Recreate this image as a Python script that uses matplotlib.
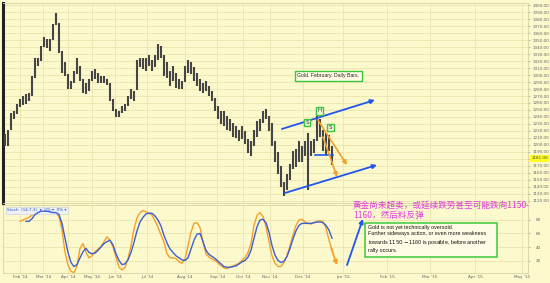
import numpy as np
import matplotlib.pyplot as plt
from matplotlib.patches import Rectangle


# gold, february contract, bar ranges (left to right)
bar_low = [1198, 1198, 1222, 1237, 1244, 1254, 1257, 1259, 1263, 1270,
           1296, 1313, 1320, 1340, 1338, 1335, 1350, 1371, 1331, 1303,
           1299, 1280, 1280, 1289, 1302, 1292, 1274, 1273, 1277, 1292,
           1295, 1289, 1289, 1289, 1286, 1263, 1248, 1240, 1240, 1246,
           1248, 1255, 1266, 1263, 1278, 1311, 1309, 1306, 1313, 1306,
           1311, 1322, 1324, 1299, 1296, 1285, 1292, 1282, 1280, 1280,
           1290, 1303, 1302, 1292, 1285, 1277, 1274, 1277, 1270, 1263,
           1248, 1237, 1230, 1227, 1222, 1220, 1212, 1210, 1205, 1208,
           1201, 1188, 1184, 1198, 1212, 1220, 1231, 1237, 1220, 1198,
           1176, 1159, 1140, 1127, 1136, 1150, 1165, 1169, 1176, 1176,
           1184, 1136, 1184, 1188, 1205, 1212, 1191, 1186, 1191, 1172]
bar_high = [1215, 1222, 1245, 1248, 1258, 1266, 1270, 1273, 1274, 1299,
            1325, 1325, 1342, 1354, 1352, 1352, 1373, 1388, 1375, 1334,
            1318, 1302, 1292, 1306, 1325, 1313, 1295, 1289, 1295, 1306,
            1309, 1303, 1299, 1298, 1295, 1288, 1266, 1251, 1248, 1256,
            1259, 1270, 1280, 1277, 1321, 1325, 1325, 1324, 1328, 1321,
            1328, 1345, 1342, 1328, 1318, 1306, 1313, 1303, 1295, 1292,
            1313, 1321, 1318, 1311, 1303, 1295, 1289, 1292, 1285, 1277,
            1267, 1256, 1248, 1248, 1241, 1237, 1231, 1227, 1222, 1227,
            1220, 1208, 1205, 1222, 1234, 1237, 1248, 1251, 1241, 1232,
            1205, 1190, 1170, 1147, 1159, 1173, 1191, 1194, 1205, 1198,
            1205, 1217, 1205, 1208, 1248, 1237, 1222, 1217, 1214, 1198]
last_price = 1181.0

# stochastics, fast line starts on bar 5, slow line on bar 7
stoch_fast = [78, 80, 82, 84, 87, 91, 93, 94, 94, 93,
              92, 91, 90, 85, 65, 32, 13, 4, 2, 12,
              38, 45, 32, 24, 27, 33, 37, 41, 48, 55,
              50, 40, 25, 10, 6, 10, 23, 42, 67, 83,
              91, 94, 92, 90, 87, 79, 69, 58, 47, 30,
              24, 24, 23, 18, 16, 22, 42, 62, 75, 76,
              69, 47, 30, 25, 22, 20, 16, 12, 9, 8,
              10, 12, 14, 16, 20, 24, 32, 45, 72, 87,
              91, 85, 70, 48, 27, 16, 11, 11, 17, 27,
              42, 58, 72, 80, 81, 77, 75, 74, 76, 78,
              79, 78, 68, 50, 36]
stoch_slow = [78, 78, 82, 88, 91, 93, 93, 93, 92, 91,
              91, 88, 75, 53, 32, 17, 11, 14, 24, 33,
              38, 32, 30, 31, 35, 40, 45, 48, 50, 43,
              30, 20, 14, 15, 21, 32, 47, 64, 77, 84,
              89, 90, 90, 86, 80, 71, 57, 46, 37, 32,
              27, 24, 21, 20, 24, 37, 50, 59, 60, 48,
              35, 29, 26, 23, 19, 15, 11, 10, 10, 11,
              12, 15, 18, 20, 25, 35, 53, 70, 80, 81,
              76, 62, 42, 28, 20, 17, 19, 26, 38, 52,
              64, 72, 75, 75, 75, 75, 76, 77, 77, 76,
              72, 65, 53]
fast_start = 5
slow_start = 7

# month boundaries in bar units
month_pos = [5, 12.7, 21, 29, 36.7, 47.3, 60, 70.7, 79.3, 88.3, 99.3,
             112.7, 127.3, 141.7, 156.7, 172.3]
month_labels = ["Feb '14", "Mar '14", "Apr '14", "May '14", "Jun '14", "Jul '14",
                "Aug '14", "Sep '14", "Oct '14", "Nov '14", "Dec '14", "Jan '15",
                "Feb '15", "Mar '15", "Apr '15", "May '15"]
price_ticks = np.arange(1120, 1401, 10)
stoch_ticks = [20, 40, 60, 80]

BG = '#fcf9cc'
GRID = '#ebe4b0'
GREEN = '#3cc83c'
BLUE = '#2255ee'
ORANGE = '#f5a02a'
W, H = 550.0, 283.0

fig = plt.figure(figsize=(5.5, 2.83), dpi=100, facecolor=BG)
ax = fig.add_axes([3 / W, 1 - 203 / H, 525 / W, 200 / H], facecolor=BG)
ax2 = fig.add_axes([3 / W, 1 - 273 / H, 525 / W, 68 / H], facecolor=BG, sharex=ax)

# price bars
x = np.arange(len(bar_low))
ax.vlines(x, bar_low, bar_high, color='#454545', lw=1.5, zorder=3)

ax.set_xlim(-0.67, 174.33)
ax.set_ylim(1117.1, 1402.9)
ax.set_yticks(price_ticks)
ax.set_yticklabels([f"{v:.2f}" for v in price_ticks])
ax.set_xticks(month_pos)
ax.grid(True, color=GRID, lw=0.6)
ax.tick_params(axis='y', left=False, right=True, labelleft=False, labelright=True,
               labelsize=3, labelcolor='#666666', color='#bbbbbb', length=1.5, pad=1.5)
ax.tick_params(axis='x', bottom=False, labelbottom=False)
for side in ['top', 'right', 'bottom']:
    ax.spines[side].set_color('#d8d2a0')
    ax.spines[side].set_linewidth(0.6)
ax.spines['left'].set_color('#222222')
ax.spines['left'].set_linewidth(2.2)

ax.text(1.006, last_price, f"{last_price:.2f}", transform=ax.get_yaxis_transform(),
        ha='left', va='center', fontsize=3, color='#444444',
        bbox=dict(boxstyle='square,pad=0.35', fc='#ffff22', ec='none'), clip_on=False)

# pattern markup
arrow_blue = dict(arrowstyle='-|>', color=BLUE, lw=1.3, mutation_scale=6, shrinkA=0, shrinkB=0)
arrow_orange = dict(arrowstyle='-|>', color=ORANGE, lw=1.2, mutation_scale=6, shrinkA=0, shrinkB=0)
ax.annotate('', xy=(123.3, 1264.3), xytext=(92.3, 1222.9), arrowprops=arrow_blue, zorder=5)
ax.annotate('', xy=(124.0, 1171.4), xytext=(93.3, 1131.4), arrowprops=arrow_blue, zorder=5)
ax.plot([103.3, 109.3], [1185.7, 1185.7], color=BLUE, lw=1.2, zorder=5)
ax.annotate('', xy=(114.0, 1171.4), xytext=(104.3, 1235.7), arrowprops=arrow_orange, zorder=5)
ax.annotate('', xy=(110.7, 1154.3), xytext=(106.0, 1211.4), arrowprops=arrow_orange, zorder=5)

box_style = dict(boxstyle='square,pad=0.25', fc='#f3f8dc', ec=GREEN, lw=1.0)
ax.text(104.7, 1249, "H", fontsize=4, ha='center', va='center', color='#333333',
        bbox=box_style, zorder=6)
ax.text(100.7, 1232, "S", fontsize=4, ha='center', va='center', color='#333333',
        bbox=box_style, zorder=6)
ax.text(108.5, 1225, "S", fontsize=4, ha='center', va='center', color='#333333',
        bbox=box_style, zorder=6)
ax.text(107.8, 1298.6, "Gold. February. Daily Bars.", fontsize=3.7, family='Liberation Sans',
        ha='center', va='center', color='#222222',
        bbox=dict(boxstyle='square,pad=0.45', fc='#fffde6', ec=GREEN, lw=1.0), zorder=6)

# stochastics panel
ax2.plot(np.arange(fast_start, fast_start + len(stoch_fast)), stoch_fast,
         color=ORANGE, lw=1.0, zorder=3)
ax2.plot(np.arange(slow_start, slow_start + len(stoch_slow)), stoch_slow,
         color='#3d5fd0', lw=1.0, zorder=4)
ax2.set_ylim(1.5, 102.2)
ax2.set_yticks(stoch_ticks)
ax2.set_xticks(month_pos)
ax2.set_xticklabels(month_labels)
ax2.grid(True, color=GRID, lw=0.6)
ax2.tick_params(axis='y', left=False, right=True, labelleft=False, labelright=True,
                labelsize=3, labelcolor='#666666', color='#bbbbbb', length=1.5, pad=4)
ax2.tick_params(axis='x', length=0, labelsize=3, labelcolor='#666666', pad=1.5)
for side in ['top', 'right', 'bottom', 'left']:
    ax2.spines[side].set_color('#d8d2a0')
    ax2.spines[side].set_linewidth(0.6)

ax2.text(0.008, 0.92, "Stoch  (14,7,3)  \u25be  0% \u25be  0% \u25be", transform=ax2.transAxes,
         fontsize=3, color='#3355bb', ha='left', va='center',
         bbox=dict(boxstyle='square,pad=0.3', fc='#eef0f4', ec='#c8cde0', lw=0.4))

ax2.annotate('', xy=(110.7, 13.3), xytext=(108.7, 38.5),
             arrowprops=dict(arrowstyle='-|>', color=ORANGE, lw=1.3, mutation_scale=6,
                             shrinkA=0, shrinkB=0), zorder=5)
ax2.annotate('', xy=(119.3, 81.5), xytext=(114.0, 13.3),
             arrowprops=dict(arrowstyle='-|>', color=BLUE, lw=1.3, mutation_scale=6,
                             shrinkA=0, shrinkB=0), zorder=5)

# commentary
fig.text(353 / W, 1 - 201 / H, "黄金尚未超卖，或延续跌势甚至可能跌向1150-\n1160，然后料反弹",
         fontsize=6.2, color='#e23ce0', family=['Noto Sans CJK SC', 'DejaVu Sans'],
         ha='left', va='top', linespacing=1.15)

note = ("Gold is not yet technically oversold.\n"
        "Further sideways action, or even more weakness\n"
        "towards $1150 -$1160 is possible, before another\n"
        "rally occurs.")
fig.add_artist(Rectangle((365 / W, 1 - 257 / H), 132 / W, 34 / H, transform=fig.transFigure,
                         fc='#fffde6', ec=GREEN, lw=1.1, zorder=5))
fig.text(368 / W, 1 - 224.5 / H, note, fontsize=3.9, family='Liberation Sans',
         color='#111111', ha='left', va='top', linespacing=1.35, zorder=6)

plt.savefig('out.png', dpi=100, facecolor=BG)
